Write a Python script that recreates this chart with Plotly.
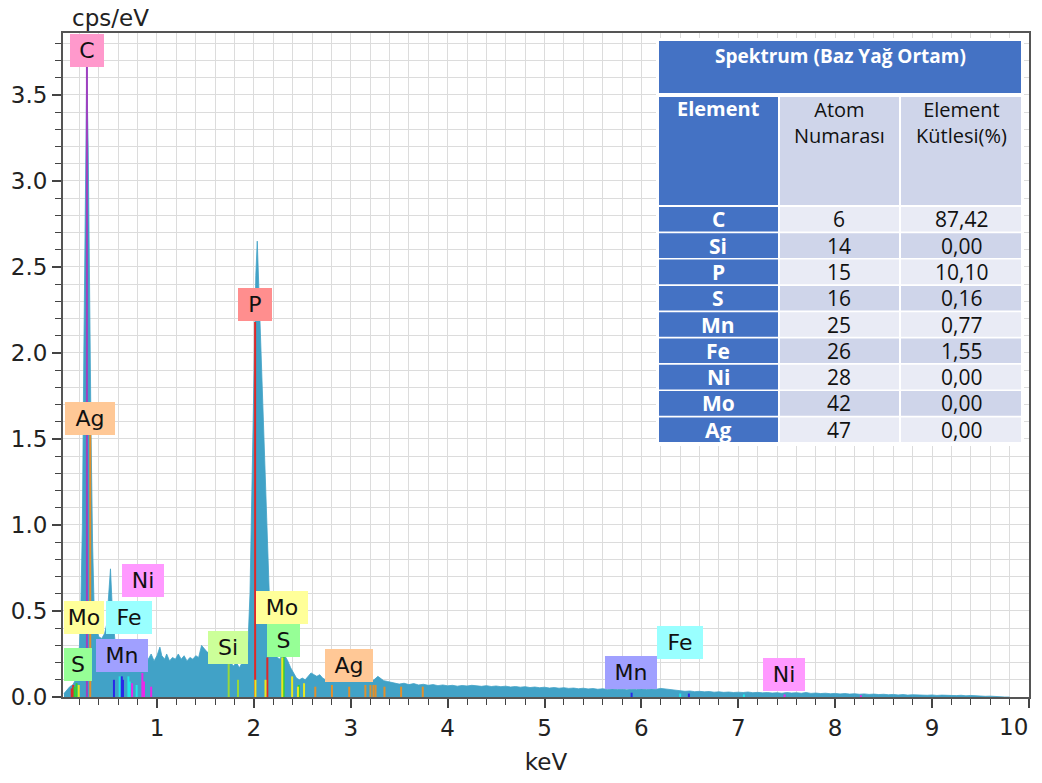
import plotly.graph_objects as go

# ---------------- EDS spectrum (cps/eV vs keV) ----------------
energy_kev = [
    0.04, 0.07, 0.10, 0.13, 0.16, 0.18, 0.20, 0.215, 0.23, 0.245, 0.26, 0.275, 0.29, 0.305,
    0.32, 0.335, 0.35, 0.37, 0.40, 0.43, 0.46, 0.48, 0.50, 0.52, 0.54, 0.56, 0.58, 0.61,
    0.64, 0.67, 0.70, 0.73, 0.76, 0.79, 0.82, 0.85, 0.88, 0.91, 0.94, 0.97, 1.00, 1.03,
    1.05, 1.08, 1.10, 1.13, 1.16, 1.19, 1.22, 1.25, 1.28, 1.31, 1.34, 1.37, 1.40, 1.43,
    1.46, 1.49, 1.52, 1.55, 1.58, 1.61, 1.64, 1.67, 1.70, 1.73, 1.76, 1.79, 1.82, 1.85,
    1.88, 1.91, 1.94, 1.96, 1.98, 2.00, 2.02, 2.035, 2.05, 2.07, 2.09, 2.11, 2.13, 2.15,
    2.17, 2.19, 2.21, 2.24, 2.27, 2.30, 2.32, 2.35, 2.38, 2.41, 2.44, 2.47, 2.50, 2.53,
    2.56, 2.59, 2.62, 2.65, 2.68, 2.71, 2.74, 2.77, 2.80, 2.84, 2.88, 2.92, 2.96, 3.00,
    3.04, 3.08, 3.12, 3.16, 3.20, 3.24, 3.28, 3.31, 3.34, 3.38, 3.42,
]
cps_per_ev = [
    0.02, 0.04, 0.06, 0.07, 0.10, 0.16, 0.30, 0.55, 1.00, 2.00, 3.10, 3.66, 3.20, 2.20,
    1.50, 0.90, 0.55, 0.40, 0.35, 0.34, 0.37, 0.42, 0.58, 0.745, 0.50, 0.34, 0.24, 0.19,
    0.17, 0.16, 0.17, 0.15, 0.17, 0.16, 0.18, 0.17, 0.19, 0.22, 0.25, 0.21, 0.24, 0.29,
    0.24, 0.22, 0.25, 0.21, 0.23, 0.22, 0.25, 0.22, 0.24, 0.21, 0.23, 0.22, 0.24, 0.23,
    0.30, 0.28, 0.26, 0.27, 0.24, 0.26, 0.23, 0.25, 0.22, 0.24, 0.20, 0.18, 0.20, 0.17,
    0.20, 0.26, 0.32, 0.60, 1.30, 2.00, 2.45, 2.65, 2.40, 2.05, 1.73, 1.35, 1.00, 0.70,
    0.42, 0.30, 0.26, 0.23, 0.22, 0.26, 0.24, 0.21, 0.17, 0.14, 0.11, 0.10, 0.11, 0.10,
    0.12, 0.14, 0.13, 0.12, 0.13, 0.11, 0.10, 0.105, 0.095, 0.10, 0.09, 0.10, 0.09, 0.095,
    0.09, 0.10, 0.09, 0.095, 0.09, 0.10, 0.12, 0.11, 0.095, 0.09, 0.085,
]
# high-energy part of the spectrum, recorded on a 0.05 keV channel grid
tail_start_kev = 3.45
tail_step_kev = 0.05
tail_cps = [
    0.080, 0.075, 0.080, 0.072, 0.078, 0.070, 0.074, 0.068, 0.072, 0.066, 0.070, 0.065,
    0.068, 0.063, 0.067, 0.064, 0.068, 0.066, 0.062, 0.066, 0.061, 0.064, 0.060, 0.063,
    0.058, 0.061, 0.057, 0.060, 0.055, 0.058, 0.054, 0.057, 0.052, 0.055, 0.051, 0.054,
    0.050, 0.052, 0.048, 0.051, 0.047, 0.049, 0.045, 0.048, 0.044, 0.046, 0.043, 0.045,
    0.042, 0.045, 0.043, 0.046, 0.043, 0.047, 0.045, 0.050, 0.046, 0.044, 0.037, 0.035,
    0.033, 0.035, 0.031, 0.033, 0.030, 0.032, 0.028, 0.030, 0.027, 0.029, 0.026, 0.028,
    0.026, 0.029, 0.025, 0.027, 0.024, 0.026, 0.023, 0.025, 0.022, 0.026, 0.023, 0.025,
    0.022, 0.026, 0.021, 0.023, 0.020, 0.022, 0.019, 0.021, 0.018, 0.020, 0.017, 0.019,
    0.016, 0.018, 0.015, 0.017, 0.014, 0.016, 0.013, 0.015, 0.012, 0.014, 0.011, 0.013,
    0.011, 0.012, 0.010, 0.012, 0.009, 0.011, 0.009, 0.010, 0.008, 0.010, 0.007, 0.009,
    0.006, 0.007, 0.004, 0.005, 0.002, 0.003, 0.000, 0.000,
]
energy_kev = energy_kev + [round(tail_start_kev + i * tail_step_kev, 2) for i in range(len(tail_cps))]
cps_per_ev = cps_per_ev + tail_cps

# ---------------- characteristic line markers ----------------
elements = ["Ag", "P", "S", "Si", "Mo", "Fe", "Mn", "Ni", "C"]
line_energy = {
    "C": [0.277],
    "Ag": [0.311, 2.634, 2.806, 2.984, 3.151, 3.203, 3.234, 3.256, 3.348, 3.520, 3.743],
    "P": [0.120, 0.135, 2.013, 2.139],
    "S": [0.149, 0.170, 2.307, 2.464],
    "Si": [1.740, 1.836],
    "Mo": [0.192, 2.016, 2.120, 2.293, 2.395, 2.455, 2.518],
    "Fe": [0.615, 0.705, 0.718, 0.790, 6.400, 7.058],
    "Mn": [0.556, 0.637, 0.649, 5.899, 6.490],
    "Ni": [0.743, 0.849, 0.866, 0.940, 7.478, 8.265],
}
line_height = {
    "C": [3.67],
    "Ag": [1.53, 0.06, 0.07, 0.06, 0.07, 0.07, 0.07, 0.07, 0.06, 0.06, 0.06],
    "P": [0.05, 0.07, 2.18, 0.23],
    "S": [0.06, 0.08, 0.24, 0.07],
    "Si": [0.20, 0.10],
    "Mo": [0.07, 0.10, 0.10, 0.23, 0.12, 0.06, 0.08],
    "Fe": [0.12, 0.12, 0.09, 0.07, 0.02, 0.015],
    "Mn": [0.10, 0.12, 0.10, 0.025, 0.02],
    "Ni": [0.08, 0.14, 0.09, 0.06, 0.015, 0.01],
}
line_color = {
    "C": "#A040C0", "Ag": "#E0902C", "P": "#E02828", "S": "#30D030", "Si": "#98D83C",
    "Mo": "#E8E820", "Fe": "#20E8E8", "Mn": "#2828E8", "Ni": "#E828E8",
}
label_fill = {
    "C": "#FF99CC", "Ag": "#FFC896", "P": "#FF8E8E", "S": "#96FF96", "Si": "#CCFF99",
    "Mo": "#FFFF99", "Fe": "#99FFFF", "Mn": "#A0A0FF", "Ni": "#FF99FF",
}

# element tags placed on the spectrum
tag_element = ["C", "Ag", "P", "Ni", "Mo", "Fe", "S", "Mn", "Si", "Mo", "S", "Ag", "Mn", "Fe", "Ni"]
tag_kev = [0.278, 0.309, 2.01, 0.856, 0.247, 0.711, 0.185, 0.639, 1.733, 2.29, 2.31, 2.98, 5.89, 6.40, 7.47]
tag_cps = [3.76, 1.62, 2.28, 0.68, 0.46, 0.46, 0.19, 0.24, 0.285, 0.523, 0.33, 0.186, 0.14, 0.314, 0.128]
tag_width = [34, 50, 34, 42, 40, 46, 28, 52, 40, 52, 33, 48, 52, 46, 42]

# x tick labels; the one at the right frame edge is drawn separately, kept inside the page
x_tick_values = [1, 2, 3, 4, 5, 6, 7, 8, 9, 10]
x_tick_text = ["1", "2", "3", "4", "5", "6", "7", "8", "9", ""]
x_edge_label = "10"

# ---------------- composition table ----------------
table_title = "Spektrum (Baz Yağ Ortam)"
table_headers = ["Element", "Atom<br>Numarası", "Element<br>Kütlesi(%)"]
table_elements = ["C", "Si", "P", "S", "Mn", "Fe", "Ni", "Mo", "Ag"]
table_atomic_numbers = ["6", "14", "15", "16", "25", "26", "28", "42", "47"]
table_mass_percent = ["87,42", "0,00", "10,10", "0,16", "0,77", "1,55", "0,00", "0,00", "0,00"]

W, H = 1042, 783
ML, MR, MT, MB = 63, 13, 33, 86
PW, PH = W - ML - MR, H - MT - MB

def pxx(px):
    return (px - ML) / PW

def pxy(py):
    return (H - MB - py) / PH

fig = go.Figure()

fig.add_trace(go.Scatter(
    x=energy_kev, y=cps_per_ev, mode="lines",
    line=dict(color="#41A2C7", width=0.8),
    fill="tozeroy", fillcolor="#41A2C7",
    hoverinfo="skip", showlegend=False,
))

for el in elements:
    xs, ys = [], []
    for e, h in zip(line_energy[el], line_height[el]):
        xs += [e, e, None]
        ys += [0, h, None]
    fig.add_trace(go.Scatter(
        x=xs, y=ys, mode="lines",
        line=dict(color=line_color[el], width=2),
        hoverinfo="skip", showlegend=False,
    ))

annotations = []
for el, xk, yc, wd in zip(tag_element, tag_kev, tag_cps, tag_width):
    annotations.append(dict(
        x=xk, y=yc, xref="x", yref="y", text=el, showarrow=False,
        font=dict(family="DejaVu Sans", size=22, color="#111111"),
        bgcolor=label_fill[el], borderpad=0, borderwidth=0,
        width=wd, height=33, xanchor="center", yanchor="middle",
    ))

grid_color = "#DCDCDC"
axis_font = dict(family="DejaVu Sans", size=23, color="#222222")

# axis title on the y side sits above the plot frame
annotations.append(dict(
    x=pxx(70), y=1, xref="paper", yref="paper", text="cps/eV", showarrow=False,
    xanchor="left", yanchor="bottom", yshift=0, font=axis_font,
))
# last x tick label, right-aligned to its tick
annotations.append(dict(
    x=x_tick_values[-1], y=0, xref="x", yref="paper", text=x_edge_label, showarrow=False,
    xanchor="right", yanchor="middle", xshift=1, yshift=-30, font=axis_font,
))

shapes = []
BLUE, LIGHT1, LIGHT2 = "#4472C4", "#E9EBF5", "#CFD5EA"
col_edges = [(659, 778), (780, 899), (901, 1021)]

def cell(x0, x1, y0, y1, color):
    shapes.append(dict(
        type="rect", xref="paper", yref="paper",
        x0=pxx(x0), x1=pxx(x1), y0=pxy(y1), y1=pxy(y0),
        fillcolor=color, line=dict(width=0), layer="above",
    ))

def text(xc, yc, s, color, bold=False, size=18):
    annotations.append(dict(
        x=pxx(xc), y=pxy(yc), xref="paper", yref="paper",
        text=f"<b>{s}</b>" if bold else s, showarrow=False,
        xanchor="center", yanchor="middle", align="center",
        font=dict(family="Open Sans", size=size, color=color),
    ))

# white backing behind the table
cell(656, 1024, 38, 446, "#FFFFFF")
# title row
cell(659, 1021, 41, 93, BLUE)
text(840, 56, table_title, "#FFFFFF", bold=True, size=19)
# header row
cell(*col_edges[0], 97, 205, BLUE)
cell(*col_edges[1], 97, 205, LIGHT2)
cell(*col_edges[2], 97, 205, LIGHT2)
text(718, 109, table_headers[0], "#FFFFFF", bold=True, size=20)
text(839, 122, table_headers[1], "#111111", size=20)
text(961, 122, table_headers[2], "#111111", size=20)

row_top, row_pitch, row_h = 207, 26.3, 24.6
for i, (el, z, m) in enumerate(zip(table_elements, table_atomic_numbers, table_mass_percent)):
    y0 = row_top + i * row_pitch
    y1 = y0 + row_h
    yc = (y0 + y1) / 2
    shade = LIGHT1 if i % 2 == 0 else LIGHT2
    cell(*col_edges[0], y0, y1, BLUE)
    cell(*col_edges[1], y0, y1, shade)
    cell(*col_edges[2], y0, y1, shade)
    text(718, yc, el, "#FFFFFF", bold=True, size=21)
    text(839, yc, z, "#111111", size=21)
    text(961, yc, m, "#111111", size=21)

fig.update_layout(
    width=W, height=H,
    margin=dict(l=ML, r=MR, t=MT, b=MB, pad=0, autoexpand=False),
    paper_bgcolor="#FFFFFF", plot_bgcolor="#FFFFFF",
    showlegend=False,
    annotations=annotations,
    shapes=shapes,
    xaxis=dict(
        range=[0.03, 10.0005], tickmode="array",
        tickvals=x_tick_values, ticktext=x_tick_text,
        automargin=False,
        showgrid=True, gridcolor=grid_color, gridwidth=1,
        ticks="outside", ticklen=9, tickwidth=1.5, tickcolor="#444444",
        showline=True, linecolor="#555555", linewidth=2, mirror=True,
        tickfont=axis_font, zeroline=False,
        minor=dict(dtick=0.2, tick0=0, showgrid=True, gridcolor=grid_color, gridwidth=1,
                   ticks="outside", ticklen=6, tickcolor="#444444", tickwidth=1.2),
        title=dict(text="keV", font=axis_font, standoff=14),
    ),
    yaxis=dict(
        range=[0, 3.86], tick0=0, dtick=0.5, tickformat=".1f",
        automargin=False,
        showgrid=True, gridcolor=grid_color, gridwidth=1,
        ticks="outside", ticklen=9, tickwidth=1.5, tickcolor="#444444",
        showline=True, linecolor="#555555", linewidth=2, mirror=True,
        tickfont=axis_font, zeroline=False,
        minor=dict(dtick=0.1, showgrid=True, gridcolor=grid_color, gridwidth=1,
                   ticks="outside", ticklen=6, tickcolor="#444444", tickwidth=1.2),
    ),
)

fig.write_html("out.html")
